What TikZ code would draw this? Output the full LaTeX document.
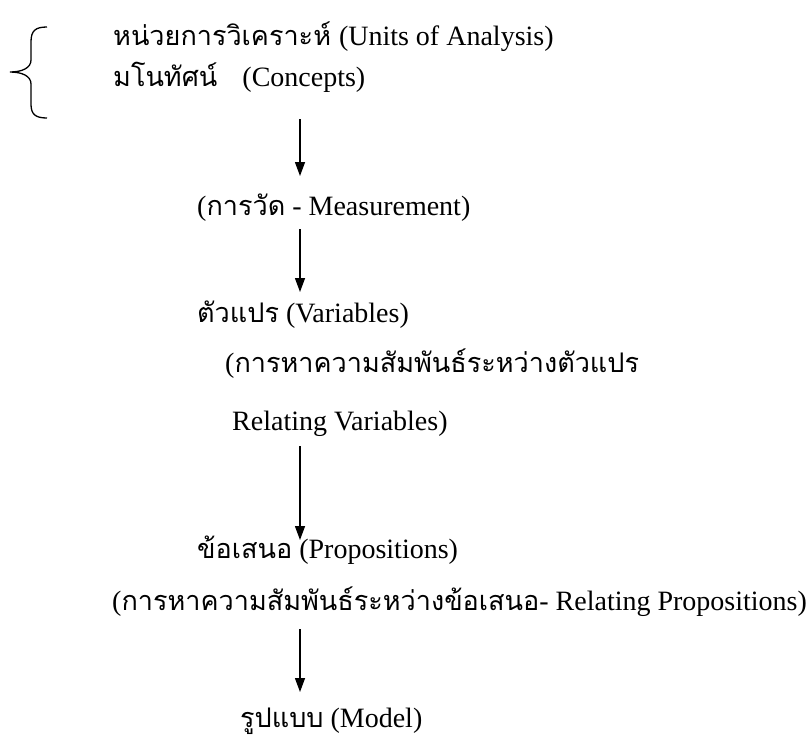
\documentclass[tikz,border=0pt]{standalone}
\usepackage{fontspec}
\usetikzlibrary{arrows.meta}
\setmainfont{Liberation Serif}
\newfontfamily\thai[Script=Thai,Scale=0.965]{Loma}
\newcommand{\thx}[1]{{\thai #1}}
\tikzset{
  lbl/.style={inner sep=0pt, anchor=base west, font=\fontsize{28}{31}\selectfont},
  flow/.style={line width=1.3pt, -{Triangle[length=14pt,width=10pt]}},
  brace/.style={line width=1.3pt}
}
\begin{document}
\begin{tikzpicture}[x=1pt,y=-1pt]
\useasboundingbox (0,0) rectangle (811,740);
\node[lbl] (l1) at (113,45) {\thx{หน่วยการวิเคราะห์}\hspace{1pt} (Units of Analysis)};
\node[lbl] (l2) at (113,86) {\thx{มโนทัศน์}\hspace{18pt} (Concepts)};
\node[lbl] (l3) at (197,215) {(\thx{การวัด} - Measurement)};
\node[lbl] (l4) at (197,322) {\thx{ตัวแปร} (Variables)};
\node[lbl] (l5) at (225,372) {(\thx{การหาความสัมพันธ์ระหว่างตัวแปร}};
\node[lbl] (l6) at (232,430) {Relating Variables)};
\node[lbl] (l7) at (197,558) {\thx{ข้อเสนอ} (Propositions)};
\node[lbl] (l8) at (112,610) {(\thx{การหาความสัมพันธ์ระหว่างข้อเสนอ}- Relating Propositions)};
\node[lbl] (l9) at (240,727) {\thx{รูปแบบ} (Model)};
\draw[brace] (47,27) .. controls (35,27) and (31,31) .. (31,42) -- (31,60)
  .. controls (31,68) and (22,72) .. (10,72)
  .. controls (22,72) and (31,76) .. (31,84) -- (31,104)
  .. controls (31,114) and (35,118) .. (47,118);
\coordinate (a1s) at (300,119); \coordinate (a1e) at (300,176);
\coordinate (a2s) at (300,229); \coordinate (a2e) at (300,292);
\coordinate (a3s) at (300,446); \coordinate (a3e) at (300,540);
\coordinate (a4s) at (300,629); \coordinate (a4e) at (300,692);
\draw[flow] (a1s) -- (a1e);
\draw[flow] (a2s) -- (a2e);
\draw[flow] (a3s) -- (a3e);
\draw[flow] (a4s) -- (a4e);
\end{tikzpicture}
\end{document}
